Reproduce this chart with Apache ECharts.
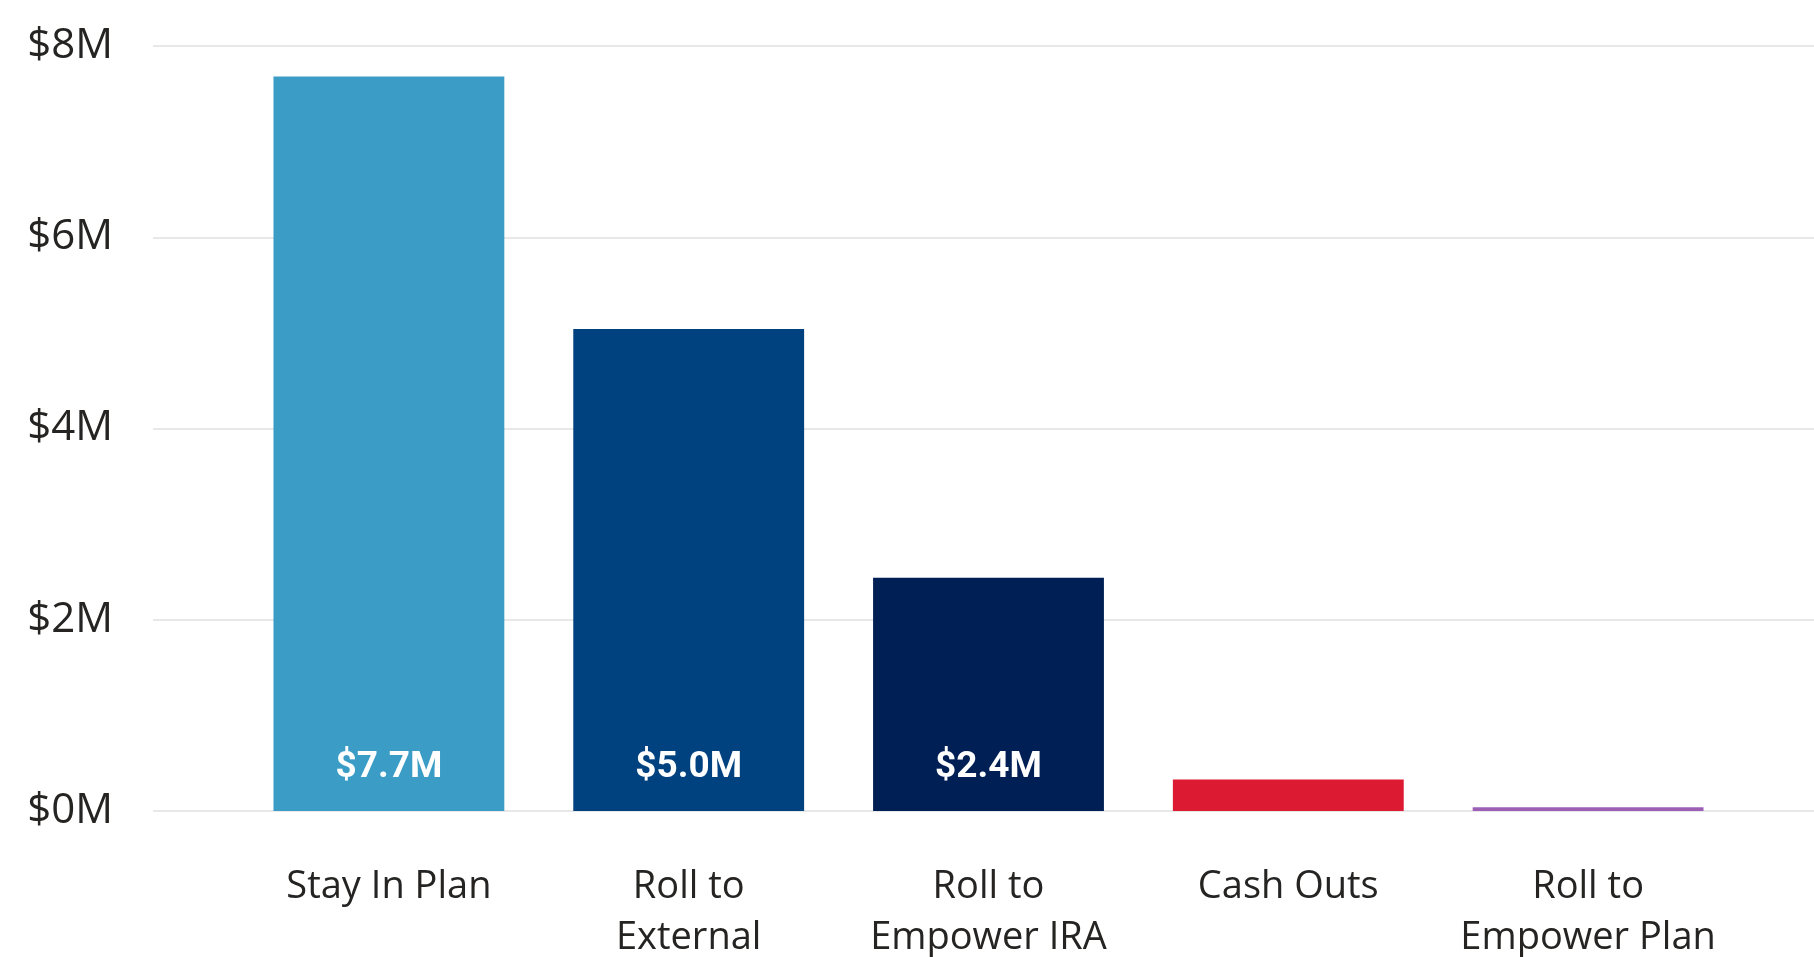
<!DOCTYPE html>
<html>
<head>
<meta charset="utf-8">
<script src="https://cdn.jsdelivr.net/npm/echarts@6/dist/echarts.min.js"></script>
<style>
  html, body { margin: 0; padding: 0; background: #fff; }
  #chart { width: 1814px; height: 957px; }
</style>
</head>
<body>
<div id="chart"></div>
<script>
// categories and amounts (dollars)
var categories = ['Stay In Plan', 'Roll to External', 'Roll to Empower IRA', 'Cash Outs', 'Roll to Empower Plan']
var amounts = [7680000, 5040000, 2440000, 330000, 40000]
var barColors = ['#3B9CC6', '#00417F', '#001F54', '#DC1A32', '#9B5FB5']
var showLabel = [true, true, true, false, false]
var yTicks = [0, 2000000, 4000000, 6000000, 8000000]

var myChart = echarts.init(document.getElementById('chart'))

var barData = amounts.map(function (v, i) {
  return {
    value: v,
    itemStyle: { color: barColors[i] },
    label: { show: showLabel[i] }
  }
})

myChart.setOption({
  animation: false,
  grid: [
    // full width grid: y labels and gridlines
    { left: 153, right: 0, top: 46, bottom: 146, outerBoundsMode: 'none', containLabel: false },
    // grid holding the bars
    { left: 239, right: 76, top: 46, bottom: 146, outerBoundsMode: 'none', containLabel: false }
  ],
  xAxis: [
    { gridIndex: 0, type: 'value', show: false },
    {
      gridIndex: 1,
      type: 'category',
      data: categories,
      axisLine: { show: false },
      axisTick: { show: false },
      axisLabel: {
        margin: 51,
        fontFamily: 'Open Sans',
        fontSize: 38,
        lineHeight: 51,
        color: '#252423',
        interval: 0,
        formatter: function (v) {
          return v.replace('Roll to ', 'Roll to\n')
        }
      }
    }
  ],
  yAxis: [
    {
      gridIndex: 0,
      type: 'value',
      min: yTicks[0],
      max: yTicks[yTicks.length - 1],
      interval: 2000000,
      axisLine: { show: false },
      axisTick: { show: false },
      splitLine: { lineStyle: { color: '#E8E8E8', width: 2 } },
      axisLabel: {
        margin: 40,
        fontFamily: 'Open Sans',
        fontSize: 42,
        color: '#252423',
        padding: [8, 0, 0, 0],
        formatter: function (v) {
          return '$' + (v / 1000000) + 'M'
        }
      }
    },
    {
      gridIndex: 1,
      type: 'value',
      min: yTicks[0],
      max: yTicks[yTicks.length - 1],
      show: false,
      splitLine: { show: false }
    }
  ],
  series: [
    {
      type: 'bar',
      xAxisIndex: 1,
      yAxisIndex: 1,
      barCategoryGap: '23%',
      data: barData,
      label: {
        position: 'insideBottom',
        distance: 25,
        color: '#fff',
        fontFamily: 'Roboto',
        fontWeight: 'bold',
        fontSize: 37,
        formatter: function (p) {
          return '$' + (p.value / 1000000).toFixed(1) + 'M'
        }
      }
    }
  ]
})
</script>
</body>
</html>
